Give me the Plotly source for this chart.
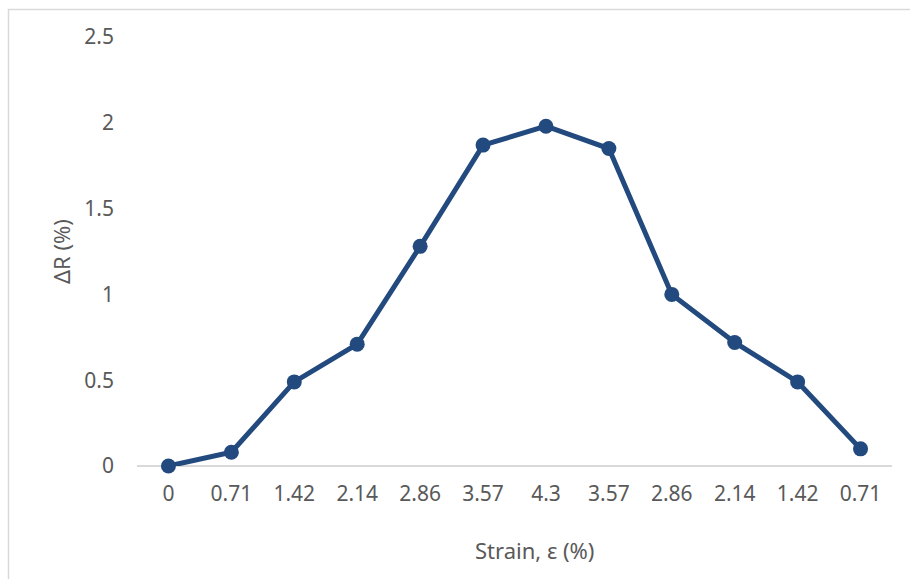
import plotly.graph_objects as go

# Strain sequence (loading up to 4.3 %, then unloading) and resistance change
strain_labels = ["0", "0.71", "1.42", "2.14", "2.86", "3.57", "4.3",
                 "3.57", "2.86", "2.14", "1.42", "0.71"]
delta_r = [0, 0.08, 0.49, 0.71, 1.28, 1.87, 1.98, 1.85, 1.0, 0.72, 0.49, 0.10]
y_ticks = [0, 0.5, 1, 1.5, 2, 2.5]

positions = list(range(len(strain_labels)))

LINE_COLOR = "#234a7e"
TEXT_COLOR = "#595959"
FONT = "Noto Sans"

W, H = 910, 579
L, R, T, B = 137, 18, 37, 113

fig = go.Figure(
    go.Scatter(
        x=positions,
        y=delta_r,
        mode="lines+markers",
        line=dict(color=LINE_COLOR, width=5),
        marker=dict(color=LINE_COLOR, size=15),
        cliponaxis=False,
        showlegend=False,
    )
)

fig.update_xaxes(
    range=[-0.5, len(strain_labels) - 0.5],
    tickmode="array",
    tickvals=positions,
    ticktext=strain_labels,
    showgrid=False,
    zeroline=False,
    showline=False,
    ticks="",
    ticklabelstandoff=13,
    tickfont=dict(family=FONT, size=21, color=TEXT_COLOR),
)
fig.update_yaxes(
    range=[0, 2.5],
    tickmode="array",
    tickvals=y_ticks,
    ticktext=[f"{v:g}" for v in y_ticks],
    showgrid=False,
    zeroline=True,
    zerolinecolor="#d9d9d9",
    zerolinewidth=1.5,
    showline=False,
    ticks="",
    ticklabelstandoff=22,
    tickfont=dict(family=FONT, size=21, color=TEXT_COLOR),
)

pw = W - L - R
ph = H - T - B

def px_to_paper_x(px):
    return (px - L) / pw

def px_to_paper_y(py):
    return (H - B - py) / ph

fig.update_layout(
    width=W,
    height=H,
    margin=dict(l=L, r=R, t=T, b=B),
    paper_bgcolor="white",
    plot_bgcolor="white",
    shapes=[
        dict(
            type="rect", xref="paper", yref="paper",
            x0=px_to_paper_x(8.5), x1=px_to_paper_x(W + 20),
            y0=px_to_paper_y(H + 20), y1=px_to_paper_y(9.5),
            line=dict(color="#d9d9d9", width=1.5),
            fillcolor="rgba(0,0,0,0)",
            layer="below",
        )
    ],
    annotations=[
        dict(
            text="Strain, ε (%)", xref="paper", yref="paper",
            x=px_to_paper_x(534), y=px_to_paper_y(550),
            xanchor="center", yanchor="middle", showarrow=False,
            font=dict(family=FONT, size=22, color=TEXT_COLOR),
        ),
        dict(
            text="ΔR (%)", xref="paper", yref="paper",
            x=px_to_paper_x(61), y=px_to_paper_y(252),
            xanchor="center", yanchor="middle", showarrow=False,
            textangle=-90,
            font=dict(family=FONT, size=22, color=TEXT_COLOR),
        ),
    ],
)

fig.write_html("out.html")
